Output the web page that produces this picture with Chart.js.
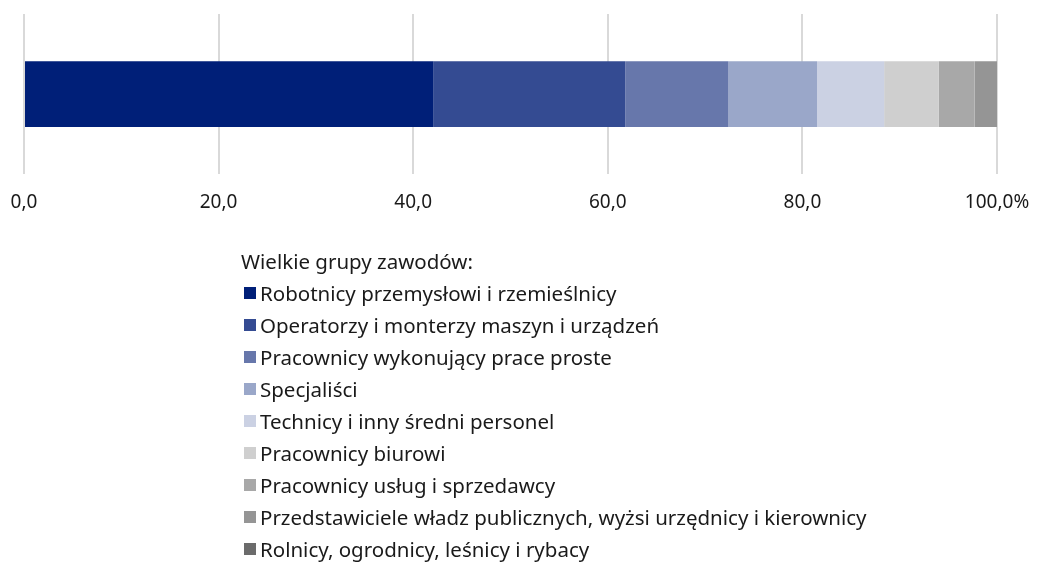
<!DOCTYPE html>
<html>
<head>
<meta charset="utf-8">
<script src="https://cdn.jsdelivr.net/npm/chart.js@4/dist/chart.umd.min.js"></script>
<style>
  body { margin: 0; background: #fff; }
  #wrap { position: relative; width: 1042px; height: 570px; font-family: "Noto Sans", sans-serif; }
  #chartBox { position: absolute; left: 0; top: 0; width: 1042px; height: 250px; }
  #legend { position: absolute; left: 241px; top: 245px; color: #1a1a1a; font-size: 20.5px; }
  #legend .title { height: 32px; line-height: 32px; }
  #legend .item { height: 32px; line-height: 32px; display: flex; align-items: center; }
  #legend .box { width: 12px; height: 12px; margin: 0 4px 0 3px; }
</style>
</head>
<body>
<div id="wrap">
  <div id="chartBox"><canvas id="shareChart"></canvas></div>
  <div id="legend"></div>
</div>
<script>
// Wielkie grupy zawodów - udział w %
const groups = [
  "Robotnicy przemysłowi i rzemieślnicy",
  "Operatorzy i monterzy maszyn i urządzeń",
  "Pracownicy wykonujący prace proste",
  "Specjaliści",
  "Technicy i inny średni personel",
  "Pracownicy biurowi",
  "Pracownicy usług i sprzedawcy",
  "Przedstawiciele władz publicznych, wyżsi urzędnicy i kierownicy",
  "Rolnicy, ogrodnicy, leśnicy i rybacy"
];
const shares = [42.1, 19.7, 10.6, 9.1, 6.9, 5.6, 3.7, 2.3, 0.0];
const colors = ["#001f78", "#344b92", "#6777ab", "#9aa7c9", "#cbd1e3", "#cfcfcf", "#a8a8a8", "#959595", "#6b6b6b"];
const tickLabels = ["0,0", "20,0", "40,0", "60,0", "80,0", "100,0%"];
const legendTitle = "Wielkie grupy zawodów:";

const datasets = groups.map(function (g, i) {
  return {
    label: g,
    data: [shares[i]],
    backgroundColor: colors[i],
    borderWidth: 0,
    barPercentage: 0.41,
    categoryPercentage: 1.0
  };
});

new Chart(document.getElementById("shareChart"), {
  type: "bar",
  data: { labels: [""], datasets: datasets },
  options: {
    indexAxis: "y",
    responsive: true,
    maintainAspectRatio: false,
    animation: false,
    layout: { padding: { top: 14, left: 24, right: 45, bottom: 19 } },
    plugins: { legend: { display: false }, tooltip: { enabled: false } },
    scales: {
      x: {
        stacked: true,
        min: 0,
        max: 100,
        border: { display: false },
        grid: { color: "#d9d9d9", lineWidth: 2, drawTicks: false },
        ticks: {
          stepSize: 20,
          padding: 17,
          color: "#1a1a1a",
          font: { family: "Noto Sans", size: 19 },
          maxRotation: 0,
          callback: function (v, i) { return tickLabels[i]; }
        },
        // chart area set by layout padding only
        afterFit: function (s) { s.paddingLeft = 0; s.paddingRight = 0; }
      },
      y: {
        stacked: true,
        display: false
      }
    }
  }
});

// legenda
const leg = document.getElementById("legend");
const t = document.createElement("div");
t.className = "title";
t.textContent = legendTitle;
leg.appendChild(t);
groups.forEach(function (g, i) {
  const row = document.createElement("div");
  row.className = "item";
  const b = document.createElement("span");
  b.className = "box";
  b.style.background = colors[i];
  const s = document.createElement("span");
  s.textContent = g;
  row.appendChild(b);
  row.appendChild(s);
  leg.appendChild(row);
});
</script>
</body>
</html>
